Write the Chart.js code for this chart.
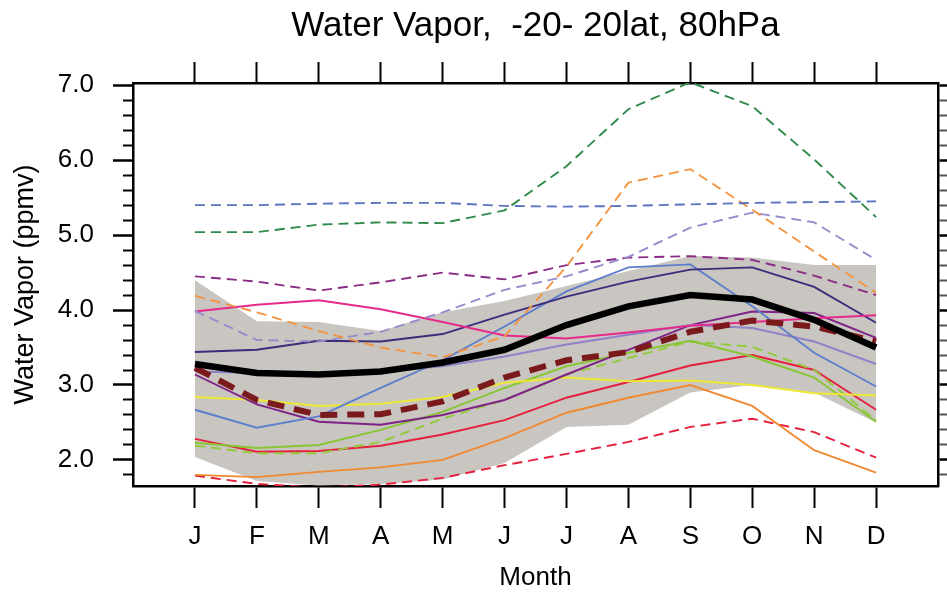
<!DOCTYPE html>
<html>
<head>
<meta charset="utf-8">
<title>Water Vapor 80hPa</title>
<script src="https://cdn.jsdelivr.net/npm/chart.js@4.4.0/dist/chart.umd.min.js"></script>
<style>
  html, body { margin: 0; padding: 0; background: #fff; }
</style>
</head>
<body>
<canvas id="myChart" width="947" height="593"></canvas>
<script>
// months on the x axis (plotted at 1..12)
const months = ['J', 'F', 'M', 'A', 'M', 'J', 'J', 'A', 'S', 'O', 'N', 'D'];
const monthNum = [1, 2, 3, 4, 5, 6, 7, 8, 9, 10, 11, 12];
const yLabels = [2.0, 3.0, 4.0, 5.0, 6.0, 7.0];

// model spread (grey band)
const bandUpper = [4.40, 3.85, 3.84, 3.72, 3.97, 4.12, 4.32, 4.52, 4.72, 4.70, 4.60, 4.60];
const bandLower = [2.04, 1.72, 1.66, 1.68, 1.74, 1.96, 2.44, 2.47, 2.90, 3.00, 2.90, 2.50];

// multi model mean and observations
const modelMean = [3.28, 3.16, 3.14, 3.18, 3.30, 3.47, 3.80, 4.05, 4.20, 4.14, 3.87, 3.50];
const obs       = [3.23, 2.80, 2.60, 2.61, 2.78, 3.10, 3.33, 3.44, 3.71, 3.86, 3.78, 3.58];

// individual models
const greenDash    = [5.04, 5.04, 5.14, 5.17, 5.16, 5.33, 5.92, 6.68, 7.04, 6.72, 6.01, 5.24];
const blueDash     = [5.40, 5.40, 5.42, 5.43, 5.43, 5.39, 5.38, 5.39, 5.41, 5.43, 5.44, 5.45];
const orangeDash   = [4.19, 3.97, 3.72, 3.50, 3.37, 3.65, 4.58, 5.70, 5.88, 5.34, 4.78, 4.23];
const lavenderDash = [3.99, 3.60, 3.58, 3.71, 3.97, 4.27, 4.45, 4.71, 5.10, 5.30, 5.17, 4.67];
const magentaDash  = [4.45, 4.38, 4.26, 4.37, 4.50, 4.41, 4.60, 4.70, 4.72, 4.67, 4.46, 4.20];
const pinkLine     = [3.98, 4.07, 4.13, 4.01, 3.84, 3.66, 3.62, 3.70, 3.79, 3.84, 3.89, 3.93];
const indigoLine   = [3.44, 3.47, 3.59, 3.58, 3.68, 3.94, 4.18, 4.38, 4.54, 4.57, 4.31, 3.83];
const blueLine     = [2.67, 2.43, 2.58, 2.96, 3.33, 3.78, 4.25, 4.57, 4.61, 4.05, 3.43, 2.98];
const lavenderLine = [3.18, 3.16, 3.15, 3.18, 3.25, 3.38, 3.54, 3.67, 3.80, 3.76, 3.58, 3.28];
const purpleLine   = [3.14, 2.74, 2.51, 2.47, 2.60, 2.80, 3.14, 3.47, 3.80, 3.98, 3.96, 3.63];
const yellowLine   = [2.84, 2.80, 2.72, 2.75, 2.84, 3.03, 3.10, 3.05, 3.06, 3.00, 2.89, 2.86];
const limeLine     = [2.23, 2.16, 2.20, 2.40, 2.64, 2.96, 3.25, 3.43, 3.59, 3.38, 3.10, 2.51];
const limeDash     = [2.19, 2.09, 2.09, 2.24, 2.55, 2.80, 3.14, 3.36, 3.58, 3.51, 3.20, 2.53];
const redLine      = [2.28, 2.11, 2.12, 2.19, 2.34, 2.53, 2.83, 3.04, 3.26, 3.40, 3.20, 2.67];
const orangeLine   = [1.80, 1.77, 1.84, 1.90, 2.00, 2.29, 2.63, 2.83, 3.00, 2.72, 2.13, 1.83];
const redDash      = [1.79, 1.68, 1.63, 1.67, 1.76, 1.93, 2.08, 2.24, 2.44, 2.55, 2.37, 2.03];

const Y_MIN = 1.652, Y_MAX = 7.03;
const FONT = "'Liberation Sans', Helvetica, Arial, sans-serif";
const TITLE_SIZE = 35;
const TITLE_PAD = { top: 5, bottom: 4 };
const PLOT_TOP = 83;

// minor ticks every 0.2
const yMinor = [];
for (let v = 18; v <= 70; v += 2) yMinor.push(v / 10);
const isMajor = v => yLabels.some(l => Math.abs(l - v) < 1e-6);

const pts = arr => arr.map((v, i) => ({ x: monthNum[i], y: v }));

function series(values, color, dashed, width, order) {
  return {
    data: pts(values),
    borderColor: color,
    backgroundColor: color,
    borderWidth: width || 1.9,
    borderDash: dashed ? [10, 6] : [],
    pointRadius: 0,
    tension: 0,
    fill: false,
    order: order || 10
  };
}

const datasets = [
  { data: pts(bandLower), borderWidth: 0, pointRadius: 0, fill: false, order: 100 },
  { data: pts(bandUpper), borderWidth: 0, pointRadius: 0, fill: '-1',
    backgroundColor: 'rgb(201,197,193)', order: 99 },
  series(greenDash,    '#2f8a4c', true),
  series(blueDash,     '#5a74c0', true),
  series(orangeDash,   '#f29440', true),
  series(lavenderDash, '#978bcc', true),
  series(magentaDash,  '#8a2c84', true),
  series(pinkLine,     '#e62a8a', false),
  series(indigoLine,   '#3c2c7c', false),
  series(blueLine,     '#5d7fcb', false),
  series(lavenderLine, '#8f82c6', false),
  series(purpleLine,   '#7e2286', false),
  series(yellowLine,   '#ece834', false),
  series(limeLine,     '#86c632', false),
  series(limeDash,     '#92ca3c', true),
  series(redLine,      '#e5203e', false),
  series(orangeLine,   '#f08a32', false),
  series(redDash,      '#e5203e', true),
  Object.assign(series(obs, '#7a1a1c', false, 6, 2), { borderDash: [17, 10] }),
  series(modelMean, '#000000', false, 6.5, 1)
];

const frame = { display: true, color: '#000', width: 2.5 };

const config = {
  type: 'line',
  data: { datasets },
  options: {
    responsive: false,
    animation: false,
    events: [],
    layout: { padding: 0 },
    plugins: {
      legend: { display: false },
      tooltip: { enabled: false },
      title: {
        display: true,
        fullSize: false,
        text: 'Water Vapor,  -20- 20lat, 80hPa',
        color: '#000',
        font: { family: FONT, size: TITLE_SIZE, weight: 'normal' },
        padding: TITLE_PAD
      }
    },
    scales: {
      x: {
        type: 'linear', position: 'bottom', min: 0, max: 13,
        afterBuildTicks: s => { s.ticks = monthNum.map(v => ({ value: v })); },
        afterFit: s => { s.height = 107; },
        border: frame,
        grid: { drawOnChartArea: false, tickLength: 22, tickWidth: 2, tickColor: '#000' },
        ticks: {
          autoSkip: false, maxRotation: 0, padding: 13, color: '#000',
          font: { family: FONT, size: 26 },
          callback: v => months[v - 1]
        },
        title: {
          display: true, text: 'Month', color: '#000',
          font: { family: FONT, size: 26 }, padding: { top: 0, bottom: 0 }
        }
      },
      x2: {
        type: 'linear', position: 'top', min: 0, max: 13,
        afterBuildTicks: s => { s.ticks = monthNum.map(v => ({ value: v })); },
        afterFit: s => {
          s.height = PLOT_TOP - (TITLE_SIZE * 1.2 + TITLE_PAD.top + TITLE_PAD.bottom);
        },
        border: frame,
        grid: { drawOnChartArea: false, tickLength: 21, tickWidth: 2, tickColor: '#000' },
        ticks: { display: false }
      },
      y: {
        type: 'linear', position: 'left', min: Y_MIN, max: Y_MAX,
        afterBuildTicks: s => { s.ticks = yMinor.map(v => ({ value: v })); },
        afterFit: s => { s.width = 133; },
        border: frame,
        grid: {
          drawOnChartArea: false, tickLength: 20, tickColor: '#000',
          tickWidth: c => isMajor(c.tick.value) ? 2.5 : 2,
          // minor ticks: only the inner half of the tick is drawn
          tickBorderDash: c => isMajor(c.tick.value) ? [] : [10, 10],
          tickBorderDashOffset: c => isMajor(c.tick.value) ? 0 : 10
        },
        ticks: {
          autoSkip: false, padding: 19, color: '#000',
          font: { family: FONT, size: 26 },
          callback: v => isMajor(v) ? v.toFixed(1) : ''
        },
        title: {
          display: true, text: 'Water Vapor (ppmv)', color: '#000',
          font: { family: FONT, size: 27 }, padding: { top: 9, bottom: 0 }
        }
      },
      y2: {
        type: 'linear', position: 'right', min: Y_MIN, max: Y_MAX,
        afterBuildTicks: s => { s.ticks = yMinor.map(v => ({ value: v })); },
        afterFit: s => { s.width = 9; },
        border: frame,
        grid: {
          drawOnChartArea: false, tickLength: 12,
          tickColor: c => isMajor(c.tick.value) ? '#000' : '#555',
          tickWidth: c => isMajor(c.tick.value) ? 2.5 : 2
        },
        ticks: { display: false }
      }
    }
  }
};

const myChart = new Chart(document.getElementById('myChart'), config);
</script>
</body>
</html>
